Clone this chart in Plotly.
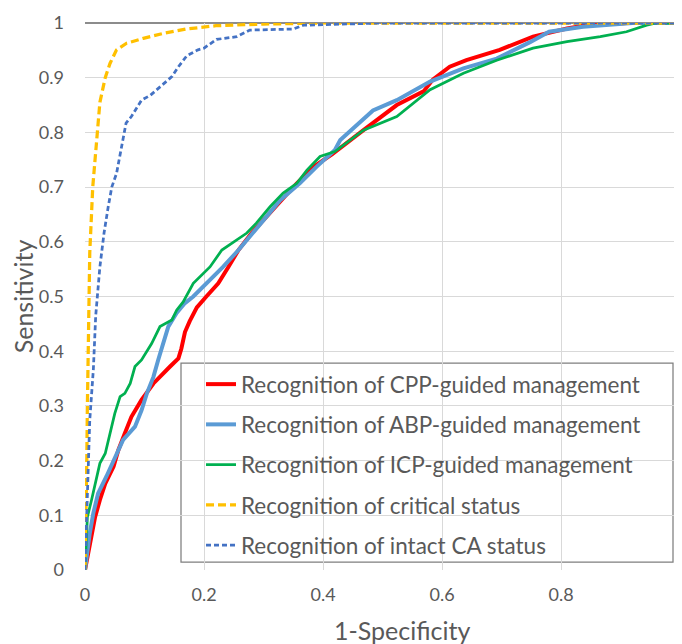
import plotly.graph_objects as go

# ---- data ----
cpp_x = [0, 0.007, 0.017, 0.025, 0.034, 0.048, 0.056, 0.067, 0.078, 0.095, 0.115, 0.143, 0.157,
         0.162, 0.168, 0.176, 0.188, 0.204, 0.224, 0.241, 0.258, 0.280, 0.305, 0.328, 0.356,
         0.384, 0.415, 0.468, 0.524, 0.569, 0.585, 0.613, 0.641, 0.697, 0.753, 0.81, 0.843, 0.91, 1.0]
cpp_y = [0, 0.043, 0.097, 0.128, 0.158, 0.189, 0.219, 0.25, 0.28, 0.311, 0.341, 0.372, 0.387,
         0.405, 0.435, 0.455, 0.48, 0.50, 0.524, 0.554, 0.585, 0.616, 0.646, 0.676, 0.707,
         0.737, 0.76, 0.804, 0.850, 0.875, 0.897, 0.92, 0.932, 0.951, 0.975, 0.99, 0.996, 1.0, 1.0]

abp_x = [0, 0.004, 0.008, 0.014, 0.022, 0.036, 0.048, 0.064, 0.084, 0.095, 0.104, 0.115, 0.123,
         0.132, 0.14, 0.154, 0.168, 0.182, 0.204, 0.232, 0.258, 0.283, 0.305, 0.328, 0.361,
         0.389, 0.42, 0.429, 0.484, 0.524, 0.58, 0.636, 0.692, 0.748, 0.78, 0.837, 0.92, 1.0]
abp_y = [0, 0.04, 0.067, 0.104, 0.14, 0.171, 0.201, 0.238, 0.262, 0.292, 0.323, 0.353, 0.384,
         0.414, 0.445, 0.47, 0.488, 0.50, 0.524, 0.554, 0.585, 0.616, 0.646, 0.676, 0.707,
         0.737, 0.768, 0.786, 0.84, 0.859, 0.893, 0.917, 0.935, 0.965, 0.984, 0.993, 1.0, 1.0]

icp_x = [0, 0.002, 0.004, 0.011, 0.017, 0.025, 0.034, 0.042, 0.05, 0.059, 0.067, 0.076, 0.084,
         0.095, 0.112, 0.126, 0.146, 0.154, 0.165, 0.182, 0.21, 0.23, 0.258, 0.272, 0.288,
         0.311, 0.333, 0.356, 0.373, 0.395, 0.42, 0.468, 0.524, 0.58, 0.636, 0.692, 0.753,
         0.81, 0.866, 0.91, 0.944, 0.96, 1.0]
icp_y = [0, 0.05, 0.097, 0.128, 0.158, 0.195, 0.213, 0.25, 0.286, 0.317, 0.323, 0.341, 0.372,
         0.384, 0.414, 0.445, 0.457, 0.475, 0.49, 0.524, 0.554, 0.585, 0.606, 0.616, 0.634,
         0.664, 0.689, 0.707, 0.731, 0.756, 0.765, 0.804, 0.829, 0.878, 0.908, 0.932, 0.954,
         0.966, 0.975, 0.984, 0.996, 1.0, 1.0]

crit_x = [0, 0.002, 0.003, 0.004, 0.005, 0.006, 0.008, 0.013, 0.020, 0.025, 0.034, 0.042, 0.053,
          0.070, 0.098, 0.132, 0.17, 0.22, 0.30, 0.40, 1.0]
crit_y = [0, 0.1, 0.2, 0.3, 0.4, 0.5, 0.58, 0.70, 0.80, 0.855, 0.90, 0.926, 0.951,
          0.963, 0.972, 0.981, 0.989, 0.995, 0.998, 1.0, 1.0]

ca_x = [0, 0.004, 0.008, 0.014, 0.018, 0.025, 0.032, 0.039, 0.045, 0.053, 0.060, 0.069, 0.078,
        0.095, 0.110, 0.131, 0.146, 0.157, 0.171, 0.19, 0.20, 0.221, 0.255, 0.277, 0.35,
        0.367, 0.445, 0.5, 1.0]
ca_y = [0, 0.15, 0.274, 0.366, 0.465, 0.554, 0.616, 0.664, 0.70, 0.725, 0.768, 0.817, 0.829,
        0.859, 0.868, 0.887, 0.902, 0.92, 0.94, 0.951, 0.954, 0.97, 0.975, 0.987, 0.989,
        0.996, 0.998, 1.0, 1.0]

names = ["Recognition of CPP-guided management",
         "Recognition of ABP-guided management",
         "Recognition of ICP-guided management",
         "Recognition of critical status",
         "Recognition of intact CA status"]

x_ticks = [0, 0.2, 0.4, 0.6, 0.8, 1]
x_tick_labels = ["0", "0.2", "0.4", "0.6", "0.8", "1"]
y_ticks = [0, 0.1, 0.2, 0.3, 0.4, 0.5, 0.6, 0.7, 0.8, 0.9, 1]
y_tick_labels = ["0", "0.1", "0.2", "0.3", "0.4", "0.5", "0.6", "0.7", "0.8", "0.9", "1"]

FONT = "Lato"
TXT = "#595959"

series = [
    (cpp_x, cpp_y, names[0], dict(color="#FF0000", width=4)),
    (abp_x, abp_y, names[1], dict(color="#5B9BD5", width=4)),
    (icp_x, icp_y, names[2], dict(color="#00B050", width=2.75)),
    (crit_x, crit_y, names[3], dict(color="#FFC000", width=3.25, dash="8px,4px")),
    (ca_x, ca_y, names[4], dict(color="#4472C4", width=2.75, dash="5px,3px")),
]

fig = go.Figure()
for i, (xs, ys, nm, ln) in enumerate(series):
    fig.add_trace(go.Scatter(x=xs, y=ys, mode="lines", name=nm, line=ln,
                             legendgroup=f"g{i}", cliponaxis=False))

# page offset of the figure inside the browser window (default body margin)
OFF = 8
W, H = 682 - OFF, 644 - OFF
L, R, T, B = 85 - OFF, 2, 23 - OFF, 74
pw = W - L - R
ph = H - T - B

def px_x(p):
    return (p - OFF - L) / pw

def px_y(p):
    return (H - B - (p - OFF)) / ph

fig.update_layout(
    width=W, height=H,
    margin=dict(l=L, r=R, t=T, b=B, autoexpand=False),
    paper_bgcolor="white", plot_bgcolor="white",
    font=dict(family=FONT, color=TXT),
    showlegend=True,
    legend=dict(
        x=px_x(201), y=px_y(363), xanchor="left", yanchor="top",
        bgcolor="rgba(0,0,0,0)", borderwidth=0,
        font=dict(family=FONT, size=22.5, color=TXT),
        traceorder="grouped", tracegroupgap=8,
    ),
    xaxis=dict(
        range=[0, 1], tickvals=x_ticks, ticktext=x_tick_labels,
        showgrid=True, gridcolor="#D9D9D9", gridwidth=1,
        zeroline=False, showline=False, ticks="",
        tickfont=dict(family=FONT, size=18, color=TXT),
        ticklabelstandoff=12, ticklabeloverflow="allow",
    ),
    yaxis=dict(
        range=[0, 1], tickvals=y_ticks, ticktext=y_tick_labels,
        showgrid=True, gridcolor="#D9D9D9", gridwidth=1,
        zeroline=False, showline=False, ticks="",
        tickfont=dict(family=FONT, size=18, color=TXT),
        ticklabelstandoff=20, ticklabeloverflow="allow",
        title=dict(text="Sensitivity", font=dict(family=FONT, size=25, color=TXT), standoff=17),
    ),
    annotations=[
        dict(text="1-Specificity", xref="paper", yref="paper",
             x=px_x(402), y=px_y(630), xanchor="center", yanchor="middle",
             showarrow=False, font=dict(family=FONT, size=25, color=TXT)),
    ],
    shapes=[
        # legend frame
        dict(type="rect", xref="paper", yref="paper", layer="between",
             x0=px_x(181), x1=px_x(673), y0=px_y(562), y1=px_y(363),
             fillcolor="white", line=dict(color="#7F7F7F", width=1.25)),
        # top and right plot-area borders
        dict(type="line", xref="paper", yref="paper", layer="below",
             x0=0, x1=1, y0=1, y1=1, line=dict(color="#8C8C8C", width=2)),
        dict(type="line", xref="paper", yref="paper", layer="below",
             x0=1, x1=1, y0=0, y1=1, line=dict(color="#8C8C8C", width=2)),
    ],
)

fig.write_html("out.html")
